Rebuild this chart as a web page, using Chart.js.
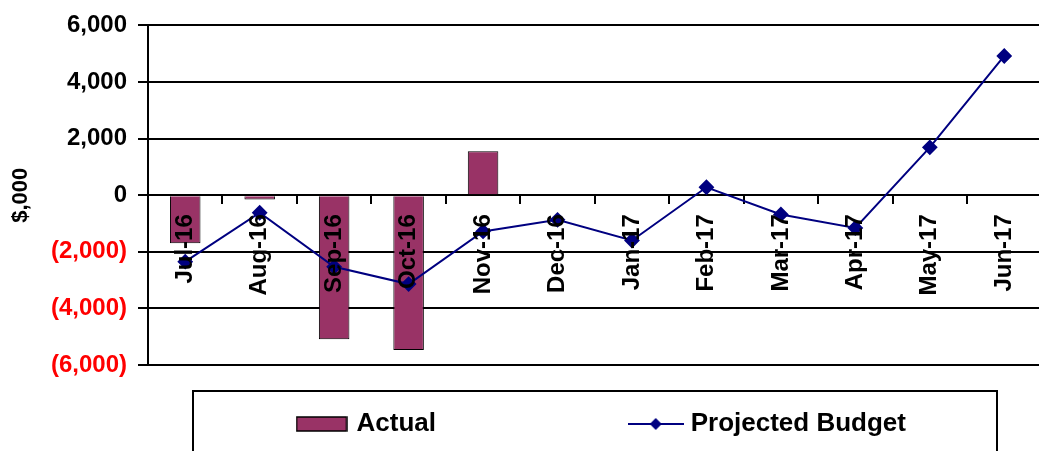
<!DOCTYPE html>
<html>
<head>
<meta charset="utf-8">
<script src="https://cdn.jsdelivr.net/npm/chart.js@4.4.1/dist/chart.umd.min.js"></script>
<style>
  html, body { margin: 0; padding: 0; background: #fff; overflow: hidden; }
  #wrap { width: 1050px; height: 451px; }
</style>
</head>
<body>
<div id="wrap"><canvas id="budgetChart" width="1050" height="451"></canvas></div>
<script>
// months on the x axis
const months = ['Jul-16', 'Aug-16', 'Sep-16', 'Oct-16', 'Nov-16', 'Dec-16',
  'Jan-17', 'Feb-17', 'Mar-17', 'Apr-17', 'May-17', 'Jun-17'];
// $,000
const actual = [-1700, -150, -5090, -5470, 1550, null, null, null, null, null, null, null];
const projected = [-2350, -620, -2530, -3140, -1280, -870, -1600, 280, -680, -1160, 1690, 4920];
const yTicks = [-6000, -4000, -2000, 0, 2000, 4000, 6000];

const FONT = 'Liberation Sans, Arial, sans-serif';
const BAR = '#993366';
const NAVY = '#000080';

// small canvases for the legend markers (excel style)
const makeBoxMarker = () => {
  const c = document.createElement('canvas');
  c.width = 52; c.height = 16;
  const g = c.getContext('2d');
  g.fillStyle = BAR;
  g.fillRect(1, 1, 50, 14);
  g.strokeStyle = '#000';
  g.lineWidth = 1.5;
  g.strokeRect(1, 1, 50, 14);
  return c;
};
const makeLineMarker = () => {
  const c = document.createElement('canvas');
  c.width = 56; c.height = 16;
  const g = c.getContext('2d');
  g.strokeStyle = NAVY;
  g.lineWidth = 2;
  g.beginPath(); g.moveTo(0, 8); g.lineTo(56, 8); g.stroke();
  g.fillStyle = NAVY;
  g.beginPath();
  g.moveTo(28, 2); g.lineTo(34, 8); g.lineTo(28, 14); g.lineTo(22, 8);
  g.closePath(); g.fill();
  return c;
};
const legendMarkers = [makeBoxMarker(), makeLineMarker()];

const fmt = (v) => {
  if (v === 0) return '0';
  const s = Math.abs(v).toLocaleString('en-US');
  return v < 0 ? '(' + s + ')' : s;
};

// frame around the legend, and nudge the legend a bit to the right
const legendFrame = {
  id: 'legendFrame',
  afterLayout(chart) {
    chart.legend.left += 8;
    chart.legend.right += 8;
  },
  afterDraw(chart) {
    const ctx = chart.ctx;
    ctx.save();
    ctx.strokeStyle = '#000';
    ctx.lineWidth = 2;
    ctx.strokeRect(193, 391, 804, 80);
    ctx.restore();
  },
};

const ctx = document.getElementById('budgetChart').getContext('2d');
const chart = new Chart(ctx, {
  data: {
    labels: months,
    datasets: [
      {
        type: 'bar',
        label: 'Actual',
        data: actual,
        backgroundColor: BAR,
        borderColor: '#000',
        borderWidth: 1,
        barPercentage: 0.41,
        categoryPercentage: 1,
        order: 1,
      },
      {
        type: 'line',
        label: 'Projected Budget',
        data: projected,
        borderColor: NAVY,
        backgroundColor: NAVY,
        borderWidth: 2,
        pointStyle: 'rectRot',
        pointRadius: 6.5,
        pointBackgroundColor: NAVY,
        pointBorderColor: NAVY,
        tension: 0,
        fill: false,
        order: 0,
      },
    ],
  },
  options: {
    responsive: false,
    animation: false,
    layout: { padding: { top: 21, left: 0, right: 4, bottom: 4 } },
    scales: {
      x: {
        type: 'category',
        position: { y: 0 },
        offset: true,
        grid: {
          display: true,
          offset: true,
          drawOnChartArea: false,
          drawTicks: true,
          tickLength: 8,
          color: '#000',
          lineWidth: 2,
        },
        border: { display: true, color: '#000', width: 2 },
        ticks: {
          z: 1,
          minRotation: 90,
          maxRotation: 90,
          autoSkip: false,
          padding: 11,
          color: '#000',
          font: { family: FONT, size: 24, weight: 'bold' },
        },
      },
      y: {
        min: -6000,
        max: 6000,
        afterFit: (scale) => { scale.width = 148; },
        afterBuildTicks: (scale) => { scale.ticks = yTicks.map((v) => ({ value: v })); },
        grid: { color: '#000', lineWidth: 2, tickLength: 10 },
        border: { display: true, color: '#000', width: 2 },
        ticks: {
          padding: 11,
          callback: (v) => fmt(v),
          color: (c) => (c.tick && c.tick.value < 0 ? '#ff0000' : '#000'),
          font: { family: FONT, size: 24, weight: 'bold' },
        },
        title: {
          display: true,
          text: '$,000',
          color: '#000',
          padding: { top: 8, bottom: 0 },
          font: { family: FONT, size: 22, weight: 'bold' },
        },
      },
    },
    plugins: {
      tooltip: { enabled: false },
      legend: {
        position: 'bottom',
        fullSize: false,
        labels: {
          usePointStyle: true,
          pointStyleWidth: 44,
          padding: 46,
          color: '#000',
          font: { family: FONT, size: 26, weight: 'bold' },
          sort: (a, b) => a.datasetIndex - b.datasetIndex,
          generateLabels: (chart) => {
            const items = Chart.defaults.plugins.legend.labels.generateLabels(chart);
            items.forEach((item) => {
              item.pointStyle = legendMarkers[item.datasetIndex];
              // excel leaves a wide gap between the two entries
              if (item.datasetIndex === 0) item.text = item.text + ' '.repeat(21);
            });
            return items;
          },
        },
      },
    },
  },
  plugins: [legendFrame],
});
</script>
</body>
</html>
